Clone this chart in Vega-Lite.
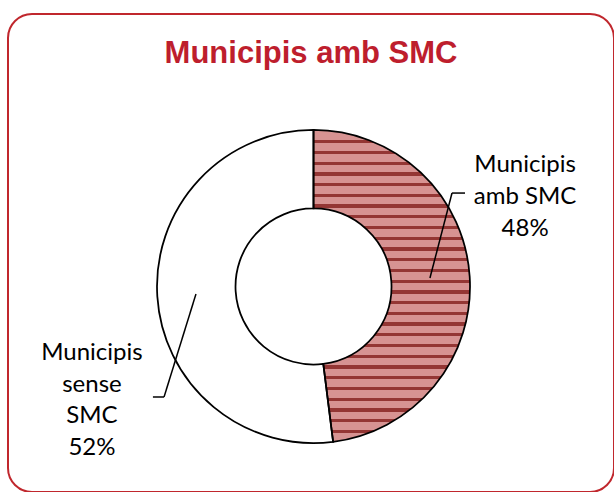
{
  "$schema": "https://vega.github.io/schema/vega-lite/v6.json",
  "width": 606,
  "height": 478,
  "autosize": "none",
  "padding": {"left": 8, "top": 14, "right": 0, "bottom": 0},
  "background": "white",
  "config": {
    "view": {"stroke": "#c0272d", "strokeWidth": 2, "cornerRadius": 24}
  },
  "title": {
    "text": "Municipis amb SMC",
    "font": "Liberation Sans",
    "fontSize": 31,
    "fontWeight": "bold",
    "color": "#be1e2d",
    "anchor": "middle",
    "frame": "group",
    "baseline": "alphabetic",
    "offset": -80
  },
  "data": {
    "values": [
      {"cat": "Municipis amb SMC", "pct": 48, "order": 1, "lines": ["Municipis", "amb SMC", "48%"]},
      {"cat": "Municipis sense SMC", "pct": 52, "order": 2, "lines": ["Municipis", "sense", "SMC", "52%"]}
    ]
  },
  "layer": [
    {
      "mark": {
        "type": "arc",
        "outerRadius": 156.5,
        "innerRadius": 78,
        "stroke": "black",
        "strokeWidth": 1.75,
        "fill": {
          "gradient": "linear", "x1": 0, "y1": 0, "x2": 0, "y2": 1,
          "stops": [
            {"offset": 0, "color": "#d79392"},
            {"offset": 0.0323, "color": "#d79392"}, {"offset": 0.0323, "color": "#943634"}, {"offset": 0.0427, "color": "#943634"}, {"offset": 0.0427, "color": "#d79392"},
            {"offset": 0.0667, "color": "#d79392"}, {"offset": 0.0667, "color": "#943634"}, {"offset": 0.0771, "color": "#943634"}, {"offset": 0.0771, "color": "#d79392"},
            {"offset": 0.1011, "color": "#d79392"}, {"offset": 0.1011, "color": "#943634"}, {"offset": 0.1116, "color": "#943634"}, {"offset": 0.1116, "color": "#d79392"},
            {"offset": 0.1356, "color": "#d79392"}, {"offset": 0.1356, "color": "#943634"}, {"offset": 0.1460, "color": "#943634"}, {"offset": 0.1460, "color": "#d79392"},
            {"offset": 0.1700, "color": "#d79392"}, {"offset": 0.1700, "color": "#943634"}, {"offset": 0.1804, "color": "#943634"}, {"offset": 0.1804, "color": "#d79392"},
            {"offset": 0.2044, "color": "#d79392"}, {"offset": 0.2044, "color": "#943634"}, {"offset": 0.2148, "color": "#943634"}, {"offset": 0.2148, "color": "#d79392"},
            {"offset": 0.2388, "color": "#d79392"}, {"offset": 0.2388, "color": "#943634"}, {"offset": 0.2492, "color": "#943634"}, {"offset": 0.2492, "color": "#d79392"},
            {"offset": 0.2732, "color": "#d79392"}, {"offset": 0.2732, "color": "#943634"}, {"offset": 0.2836, "color": "#943634"}, {"offset": 0.2836, "color": "#d79392"},
            {"offset": 0.3076, "color": "#d79392"}, {"offset": 0.3076, "color": "#943634"}, {"offset": 0.3180, "color": "#943634"}, {"offset": 0.3180, "color": "#d79392"},
            {"offset": 0.3420, "color": "#d79392"}, {"offset": 0.3420, "color": "#943634"}, {"offset": 0.3524, "color": "#943634"}, {"offset": 0.3524, "color": "#d79392"},
            {"offset": 0.3764, "color": "#d79392"}, {"offset": 0.3764, "color": "#943634"}, {"offset": 0.3869, "color": "#943634"}, {"offset": 0.3869, "color": "#d79392"},
            {"offset": 0.4109, "color": "#d79392"}, {"offset": 0.4109, "color": "#943634"}, {"offset": 0.4213, "color": "#943634"}, {"offset": 0.4213, "color": "#d79392"},
            {"offset": 0.4453, "color": "#d79392"}, {"offset": 0.4453, "color": "#943634"}, {"offset": 0.4557, "color": "#943634"}, {"offset": 0.4557, "color": "#d79392"},
            {"offset": 0.4797, "color": "#d79392"}, {"offset": 0.4797, "color": "#943634"}, {"offset": 0.4901, "color": "#943634"}, {"offset": 0.4901, "color": "#d79392"},
            {"offset": 0.5141, "color": "#d79392"}, {"offset": 0.5141, "color": "#943634"}, {"offset": 0.5245, "color": "#943634"}, {"offset": 0.5245, "color": "#d79392"},
            {"offset": 0.5485, "color": "#d79392"}, {"offset": 0.5485, "color": "#943634"}, {"offset": 0.5589, "color": "#943634"}, {"offset": 0.5589, "color": "#d79392"},
            {"offset": 0.5829, "color": "#d79392"}, {"offset": 0.5829, "color": "#943634"}, {"offset": 0.5933, "color": "#943634"}, {"offset": 0.5933, "color": "#d79392"},
            {"offset": 0.6173, "color": "#d79392"}, {"offset": 0.6173, "color": "#943634"}, {"offset": 0.6277, "color": "#943634"}, {"offset": 0.6277, "color": "#d79392"},
            {"offset": 0.6518, "color": "#d79392"}, {"offset": 0.6518, "color": "#943634"}, {"offset": 0.6622, "color": "#943634"}, {"offset": 0.6622, "color": "#d79392"},
            {"offset": 0.6862, "color": "#d79392"}, {"offset": 0.6862, "color": "#943634"}, {"offset": 0.6966, "color": "#943634"}, {"offset": 0.6966, "color": "#d79392"},
            {"offset": 0.7206, "color": "#d79392"}, {"offset": 0.7206, "color": "#943634"}, {"offset": 0.7310, "color": "#943634"}, {"offset": 0.7310, "color": "#d79392"},
            {"offset": 0.7550, "color": "#d79392"}, {"offset": 0.7550, "color": "#943634"}, {"offset": 0.7654, "color": "#943634"}, {"offset": 0.7654, "color": "#d79392"},
            {"offset": 0.7894, "color": "#d79392"}, {"offset": 0.7894, "color": "#943634"}, {"offset": 0.7998, "color": "#943634"}, {"offset": 0.7998, "color": "#d79392"},
            {"offset": 0.8238, "color": "#d79392"}, {"offset": 0.8238, "color": "#943634"}, {"offset": 0.8342, "color": "#943634"}, {"offset": 0.8342, "color": "#d79392"},
            {"offset": 0.8582, "color": "#d79392"}, {"offset": 0.8582, "color": "#943634"}, {"offset": 0.8687, "color": "#943634"}, {"offset": 0.8687, "color": "#d79392"},
            {"offset": 0.8927, "color": "#d79392"}, {"offset": 0.8927, "color": "#943634"}, {"offset": 0.9031, "color": "#943634"}, {"offset": 0.9031, "color": "#d79392"},
            {"offset": 0.9271, "color": "#d79392"}, {"offset": 0.9271, "color": "#943634"}, {"offset": 0.9375, "color": "#943634"}, {"offset": 0.9375, "color": "#d79392"},
            {"offset": 0.9615, "color": "#d79392"}, {"offset": 0.9615, "color": "#943634"}, {"offset": 0.9719, "color": "#943634"}, {"offset": 0.9719, "color": "#d79392"},
            {"offset": 1, "color": "#d79392"}
          ]
        }
      },
      "encoding": {
        "theta": {"field": "pct", "type": "quantitative", "stack": true},
        "order": {"field": "order", "type": "quantitative"},
        "fillOpacity": {"condition": {"test": "datum.order === 1", "value": 1}, "value": 0},
        "x": {"datum": 0, "type": "quantitative", "scale": {"domain": [-1.952, 1.920], "nice": false, "zero": false}, "axis": null},
        "y": {"datum": 0, "type": "quantitative", "scale": {"domain": [-1.313, 1.741], "nice": false, "zero": false}, "axis": null}
      }
    },
    {
      "mark": {"type": "text", "radius": 212, "dy": -108, "font": "Lato", "fontSize": 24, "lineHeight": 32, "color": "black", "align": "center", "baseline": "middle"},
      "encoding": {
        "theta": {"field": "pct", "type": "quantitative", "stack": true},
        "order": {"field": "order", "type": "quantitative"},
        "text": {"condition": {"test": "datum.order === 1", "field": "lines"}, "value": ""},
        "x": {"datum": 0, "type": "quantitative", "scale": {"domain": [-1.952, 1.920], "nice": false, "zero": false}, "axis": null},
        "y": {"datum": 0, "type": "quantitative", "scale": {"domain": [-1.313, 1.741], "nice": false, "zero": false}, "axis": null}
      }
    },
    {
      "mark": {"type": "text", "radius": 222, "dy": 53, "font": "Lato", "fontSize": 24, "lineHeight": 31.5, "color": "black", "align": "center", "baseline": "middle"},
      "encoding": {
        "theta": {"field": "pct", "type": "quantitative", "stack": true},
        "order": {"field": "order", "type": "quantitative"},
        "text": {"condition": {"test": "datum.order === 2", "field": "lines"}, "value": ""},
        "x": {"datum": 0, "type": "quantitative", "scale": {"domain": [-1.952, 1.920], "nice": false, "zero": false}, "axis": null},
        "y": {"datum": 0, "type": "quantitative", "scale": {"domain": [-1.313, 1.741], "nice": false, "zero": false}, "axis": null}
      }
    },
    {
      "data": {"values": [{}]},
      "mark": {"type": "rule", "color": "black", "strokeWidth": 1.5},
      "encoding": {
        "x": {"datum": 0.968, "type": "quantitative", "scale": {"domain": [-1.952, 1.920], "nice": false, "zero": false}, "axis": null},
        "x2": {"datum": 0.885},
        "y": {"datum": 0.597, "type": "quantitative", "scale": {"domain": [-1.313, 1.741], "nice": false, "zero": false}, "axis": null},
        "y2": {"datum": 0.597}
      }
    },
    {
      "data": {"values": [{}]},
      "mark": {"type": "rule", "color": "black", "strokeWidth": 1.5},
      "encoding": {
        "x": {"datum": 0.885, "type": "quantitative", "scale": {"domain": [-1.952, 1.920], "nice": false, "zero": false}, "axis": null},
        "x2": {"datum": 0.744},
        "y": {"datum": 0.597, "type": "quantitative", "scale": {"domain": [-1.313, 1.741], "nice": false, "zero": false}, "axis": null},
        "y2": {"datum": 0.054}
      }
    },
    {
      "data": {"values": [{}]},
      "mark": {"type": "rule", "color": "black", "strokeWidth": 1.5},
      "encoding": {
        "x": {"datum": -1.026, "type": "quantitative", "scale": {"domain": [-1.952, 1.920], "nice": false, "zero": false}, "axis": null},
        "x2": {"datum": -0.955},
        "y": {"datum": -0.706, "type": "quantitative", "scale": {"domain": [-1.313, 1.741], "nice": false, "zero": false}, "axis": null},
        "y2": {"datum": -0.706}
      }
    },
    {
      "data": {"values": [{}]},
      "mark": {"type": "rule", "color": "black", "strokeWidth": 1.5},
      "encoding": {
        "x": {"datum": -0.955, "type": "quantitative", "scale": {"domain": [-1.952, 1.920], "nice": false, "zero": false}, "axis": null},
        "x2": {"datum": -0.751},
        "y": {"datum": -0.706, "type": "quantitative", "scale": {"domain": [-1.313, 1.741], "nice": false, "zero": false}, "axis": null},
        "y2": {"datum": -0.048}
      }
    }
  ]
}
